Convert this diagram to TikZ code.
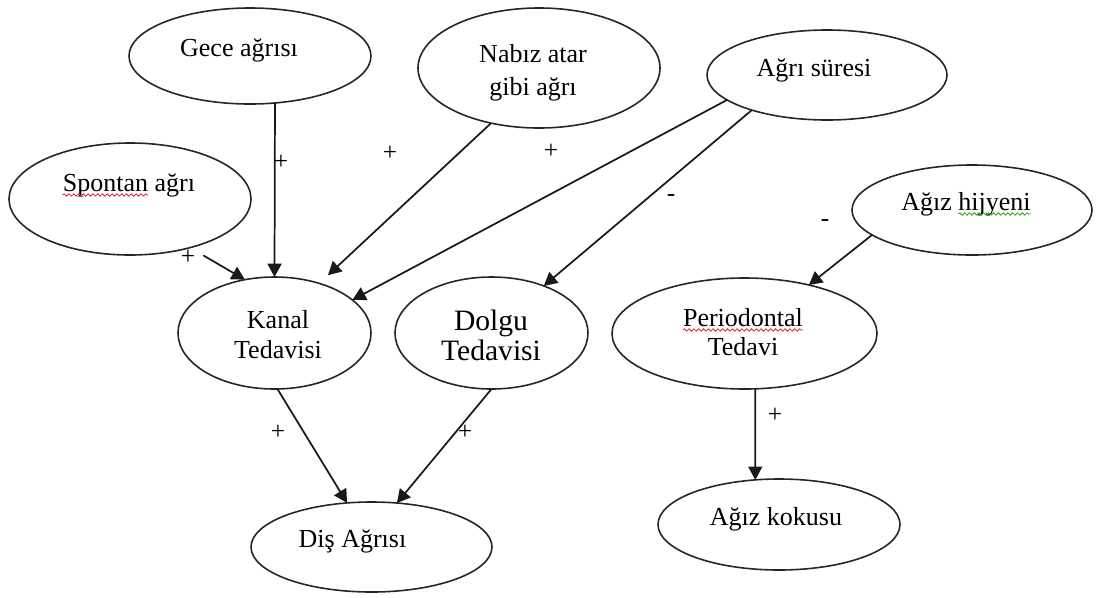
\documentclass[tikz,border=0pt]{standalone}
\usepackage{fontspec}
\setmainfont{Liberation Serif}
\usetikzlibrary{shapes.geometric,arrows.meta,calc,decorations.pathmorphing}
\definecolor{spellred}{RGB}{225,35,35}
\definecolor{spellgreen}{RGB}{40,165,40}
\tikzset{
  oval/.style args={#1x#2}{ellipse, draw=black!85, line width=1.2pt,
    minimum width=#1*0.75pt, minimum height=#2*0.75pt, inner sep=0pt, outer sep=0pt},
  lbl/.style={font=\fontsize{19.5}{22.5}\selectfont, inner sep=0pt, align=center},
  sign/.style={font=\fontsize{19}{19}\selectfont, inner sep=0pt},
  link/.style={draw=black!90, line width=1.3pt, -{Triangle[length=10pt,width=10.5pt]}},
  wave/.style={draw=#1, line width=0.6pt, decorate,
    decoration={snake, amplitude=0.9pt, segment length=3.6pt}}
}
\begin{document}
\begin{tikzpicture}[x=0.75pt, y=-0.75pt]
\useasboundingbox (0,0) rectangle (1096,597);

% factor ellipses
\node[oval=242x96]   (gece)    at (250,56)    {};
\node[oval=242x120]  (nabiz)   at (539,68)    {};
\node[oval=240x90]   (sure)    at (827,75)    {};
\node[oval=242x112]  (spontan) at (130,199)   {};
\node[oval=240x90]   (hijyen)  at (972,210)   {};
\node[oval=193x112]  (kanal)   at (274.5,333) {};
\node[oval=193x112]  (dolgu)   at (491.5,333) {};
\node[oval=265x111]  (perio)   at (744.5,333.5) {};
\node[oval=241x90]   (dis)     at (371.5,547) {};
\node[oval=242x91]   (koku)    at (779,524.5) {};

% labels inside the ellipses
\node[lbl, anchor=base] (gece-t) at (239,56) {Gece ağrısı};
\node[lbl, font=\fontsize{19.5}{24.75}\selectfont] (nabiz-t) at (533,73) {Nabız atar\\gibi ağrı};
\node[lbl, anchor=base] (sure-t) at (814,76) {Ağrı süresi};
\node[lbl, anchor=base] (spontan-t) at (129,191) {Spontan ağrı};
\node[lbl, anchor=base] (hijyen-t) at (966,210) {Ağız hijyeni};
\node[lbl] (kanal-t) at (278,335) {Kanal\\Tedavisi};
\node[lbl, font=\fontsize{22.2}{22.5}\selectfont] (dolgu-t) at (491,335) {Dolgu\\Tedavisi};
\node[lbl, anchor=base] (perio-t1) at (743,326) {Periodontal};
\node[lbl, anchor=base] (perio-t2) at (743,355) {Tedavi};
\node[lbl, anchor=base] (dis-t) at (352.5,547) {Diş Ağrısı};
\node[lbl, anchor=base] (koku-t) at (776,525) {Ağız kokusu};

% spell-check underlines
\draw[wave=spellred] ($(spontan-t.base west)+(0,-3pt)$)
  -- ($(spontan-t.base west)!0.645!(spontan-t.base east)+(0,-3pt)$);
\draw[wave=spellred] ($(perio-t1.base west)+(0,-3pt)$) -- ($(perio-t1.base east)+(0,-3pt)$);
\draw[wave=spellgreen] ($(hijyen-t.base west)!0.441!(hijyen-t.base east)+(0,-3pt)$)
  -- ($(hijyen-t.base east)+(0,-3pt)$);

% influence arrows
\draw[link] (gece.-62) -- (kanal.north);
\draw[link, shorten <=11.6pt] (spontan.-39.5) -- (kanal.119);
\draw[link, shorten >=9pt] (nabiz.229.6) -- (kanal.48.7);
\draw[link] (sure.194.9) -- (kanal.23.3);
\draw[link] (sure.205.6) -- (dolgu.42.6);
\draw[link] (hijyen.194.4) -- (perio.37.5);
\draw[link] (kanal.-87.4) -- (dis.119.1);
\draw[link] (dolgu.south) -- (dis.60);
\draw[link] (perio.-79.2) -- (koku.118.3);

% signs of the influences
\node[sign] (s1) at (281,162) {+};
\node[sign] (s2) at (390,153) {+};
\node[sign] (s3) at (551,151) {+};
\node[sign] (s4) at (188,257) {+};
\node[sign] (s5) at (671,198) {-};
\node[sign] (s6) at (825,223) {-};
\node[sign] (s7) at (278,432) {+};
\node[sign] (s8) at (465,432) {+};
\node[sign] (s9) at (775,415) {+};
\end{tikzpicture}
\end{document}
